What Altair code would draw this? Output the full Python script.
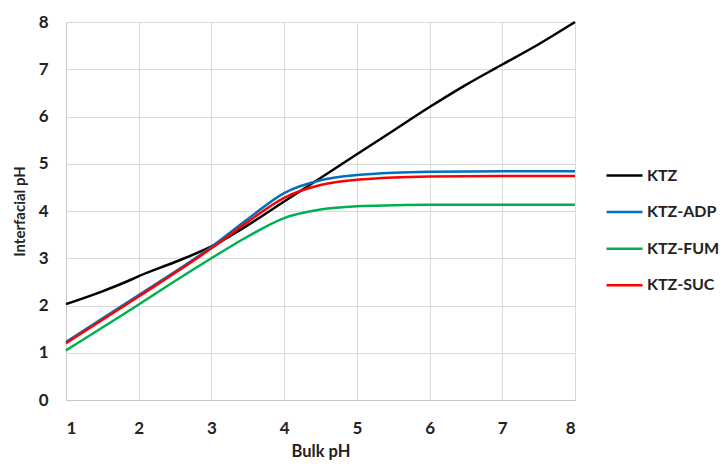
import altair as alt
import pandas as pd

series_names = ["KTZ", "KTZ-ADP", "KTZ-FUM", "KTZ-SUC"]
colors = ["#000000", "#0070C0", "#00B050", "#FF0000"]

ktz_x = [1, 1.5, 1.9, 2, 2.5, 3, 3.5, 4, 4.5, 5, 5.5, 6, 6.5, 7, 7.5, 8]
ktz_y = [2.03, 2.3, 2.55, 2.62, 2.92, 3.25, 3.7, 4.2, 4.7, 5.2, 5.7, 6.2, 6.67, 7.1, 7.53, 8.0]

adp_x = [1, 2, 3, 3.5, 4, 4.5, 5, 5.5, 6, 7, 8]
adp_y = [1.23, 2.22, 3.24, 3.83, 4.38, 4.65, 4.76, 4.81, 4.83, 4.84, 4.84]

fum_x = [1, 2, 2.5, 3, 3.5, 4, 4.5, 5, 5.5, 6, 7, 8]
fum_y = [1.05, 2.02, 2.52, 3.0, 3.46, 3.85, 4.03, 4.1, 4.12, 4.13, 4.13, 4.13]

suc_x = [1, 2, 3, 3.5, 4, 4.5, 5, 5.5, 6, 7, 8]
suc_y = [1.2, 2.19, 3.21, 3.77, 4.28, 4.55, 4.66, 4.71, 4.73, 4.74, 4.74]

rows = []
for i, (name, xs, ys) in enumerate(zip(series_names,
                                       [ktz_x, adp_x, fum_x, suc_x],
                                       [ktz_y, adp_y, fum_y, suc_y])):
    for x, y in zip(xs, ys):
        rows.append({"series": name, "order": i, "bulk": x, "interfacial": y})
df = pd.DataFrame(rows)

FONT = "Lato"

chart = alt.Chart(df).mark_line(strokeWidth=2.5, interpolate="monotone").encode(
    x=alt.X("bulk:Q", title="Bulk pH",
            scale=alt.Scale(domain=[1, 8], nice=False, zero=False),
            axis=alt.Axis(values=[1, 2, 3, 4, 5, 6, 7, 8], tickSize=0, labelPadding=20,
                          titlePadding=7, labelFontSize=17, titleFontSize=16.5,
                          labelFontWeight="bold", titleFontWeight="bold",
                          labelColor="#222222", titleColor="#222222",
                          gridColor="#d9d9d9", domainColor="#c8c8c8",
                          labelFont=FONT, titleFont=FONT)),
    y=alt.Y("interfacial:Q", title="Interfacial pH",
            scale=alt.Scale(domain=[0, 8], nice=False),
            axis=alt.Axis(values=[0, 1, 2, 3, 4, 5, 6, 7, 8], tickSize=0, labelPadding=18,
                          titlePadding=11, labelFontSize=17, titleFontSize=15,
                          labelFontWeight="bold", titleFontWeight="bold",
                          labelColor="#222222", titleColor="#222222",
                          gridColor="#d9d9d9", domainColor="#c8c8c8",
                          labelFont=FONT, titleFont=FONT)),
    color=alt.Color("series:N", scale=alt.Scale(domain=series_names, range=colors),
                    legend=alt.Legend(title=None, orient="none", legendX=539, legendY=134,
                                      symbolType="stroke", symbolSize=1296,
                                      symbolStrokeWidth=2.5, labelFontSize=16,
                                      labelFontWeight="bold", labelFont=FONT,
                                      labelColor="#222222", rowPadding=8.6,
                                      labelOffset=3)),
    order=alt.Order("order:Q"),
    detail="series:N",
).properties(
    width=509, height=378,
    autosize=alt.AutoSizeParams(type="none"),
    padding={"left": 58, "top": 14, "right": 145, "bottom": 60},
).configure_view(stroke=None).configure(background="white")

chart.save("out.html", embed_options={"renderer": "svg", "actions": False})
